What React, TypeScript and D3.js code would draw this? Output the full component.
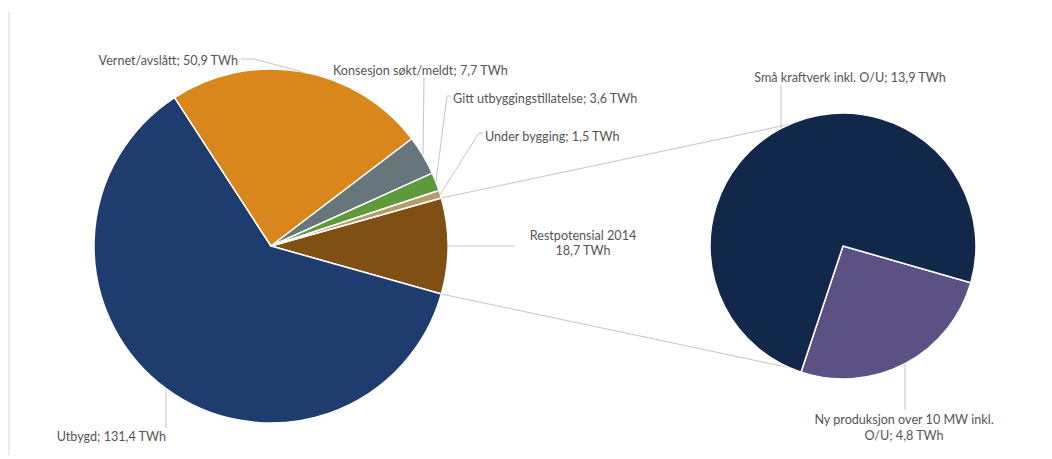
import React from "react";
import * as d3 from "d3";

const mainCategories = ["Restpotensial 2014", "Utbygd", "Vernet/avslått", "Konsesjon søkt/meldt", "Gitt utbyggingstillatelse", "Under bygging"];
const mainValues = [18.7, 131.4, 50.9, 7.7, 3.6, 1.5];
const mainColors = ["#7F4F14", "#1F3C6E", "#D9861C", "#66767A", "#5E9A3A", "#B59B6B"];

const subCategories = ["Ny produksjon over 10 MW inkl. O/U", "Små kraftverk inkl. O/U"];
const subValues = [4.8, 13.9];
const subColors = ["#5B5185", "#12284A"];

const fmt = (v: number) => v.toFixed(1).replace(".", ",");

const W = 1052, H = 459;
const C1 = { x: 271, y: 246, r: 177 };
const C2 = { x: 843, y: 246, r: 133 };
const SUB_START = (106 * Math.PI) / 180;
const TEXT = "#555555";
const LINE = "#c4c4c4";
const FONT = "Lato, 'Open Sans', sans-serif";
const FS = 12.6;

function pt(c: { x: number; y: number }, r: number, a: number): [number, number] {
  return [c.x + r * Math.sin(a), c.y - r * Math.cos(a)];
}

export default function App() {
  const total = d3.sum(mainValues);
  const s0 = Math.PI / 2 - (Math.PI * mainValues[0]) / total;
  const pie = d3.pie<number>().sort(null).value((d) => d).startAngle(s0).endAngle(s0 + 2 * Math.PI);
  const arcs = pie(mainValues);
  const arcGen = d3.arc<d3.PieArcDatum<number>>().innerRadius(0).outerRadius(C1.r);

  const subPie = d3.pie<number>().sort(null).value((d) => d).startAngle(SUB_START).endAngle(SUB_START + 2 * Math.PI);
  const subArcs = subPie(subValues);
  const subArcGen = d3.arc<d3.PieArcDatum<number>>().innerRadius(0).outerRadius(C2.r);

  const mid = (a: d3.PieArcDatum<number>) => (a.startAngle + a.endAngle) / 2;
  const edge = (i: number) => pt(C1, C1.r, mid(arcs[i]));
  const subEdge = (i: number) => pt(C2, C2.r, mid(subArcs[i]));

  const rest = arcs[0];
  const topP = pt(C1, C1.r, rest.startAngle);
  const botP = pt(C1, C1.r, rest.endAngle);

  const eRest = edge(0), eUt = edge(1), eVern = edge(2), eKon = edge(3), eGitt = edge(4), eUnder = edge(5);
  const eNy = subEdge(0), eSma = subEdge(1);

  const txt = { fill: TEXT, fontFamily: FONT, fontSize: FS } as const;

  return (
    <svg width={W} height={H} style={{ position: "absolute", left: 0, top: 0, background: "#fff" }}>
      <line x1={9} y1={12} x2={9} y2={455} stroke="#ececec" strokeWidth={2} />
      {/* connector lines */}
      <line x1={topP[0]} y1={topP[1]} x2={C2.x} y2={C2.y - C2.r} stroke={LINE} strokeWidth={1} />
      <line x1={botP[0]} y1={botP[1]} x2={C2.x} y2={C2.y + C2.r} stroke={LINE} strokeWidth={1} />
      <g transform={`translate(${C1.x},${C1.y})`}>
        {arcs.map((a, i) => (
          <path key={mainCategories[i]} d={arcGen(a) || ""} fill={mainColors[i]} stroke="#fff" strokeWidth={1.5} strokeLinejoin="round" />
        ))}
      </g>
      <g transform={`translate(${C2.x},${C2.y})`}>
        {subArcs.map((a, i) => (
          <path key={subCategories[i]} d={subArcGen(a) || ""} fill={subColors[i]} stroke="#fff" strokeWidth={1.5} strokeLinejoin="round" />
        ))}
      </g>
      {/* leader lines */}
      <g fill="none" stroke={LINE} strokeWidth={1}>
        <polyline points={`241,59 254,59 ${eVern[0]},${eVern[1]}`} />
        <polyline points={`${eKon[0] + 1},77 ${eKon[0]},${eKon[1]}`} />
        <polyline points={`451,96 447,96 ${eGitt[0]},${eGitt[1]}`} />
        <polyline points={`483,133 479,133 ${eUnder[0]},${eUnder[1]}`} />
        <polyline points={`${eRest[0]},${eRest[1]} 515,${eRest[1]}`} />
        <polyline points={`${eUt[0]},${eUt[1]} ${eUt[0]},428`} />
        <polyline points={`${eSma[0]},85 ${eSma[0]},${eSma[1]}`} />
        <polyline points={`${eNy[0]},${eNy[1]} ${eNy[0]},410`} />
      </g>
      {/* labels */}
      <text {...txt} x={238} y={65} textAnchor="end">{`${mainCategories[2]}; ${fmt(mainValues[2])} TWh`}</text>
      <text {...txt} x={333} y={75}>{`${mainCategories[3]}; ${fmt(mainValues[3])} TWh`}</text>
      <text {...txt} x={453} y={103}>{`${mainCategories[4]}; ${fmt(mainValues[4])} TWh`}</text>
      <text {...txt} x={485} y={141}>{`${mainCategories[5]}; ${fmt(mainValues[5])} TWh`}</text>
      <text {...txt} x={583} y={240} textAnchor="middle">{mainCategories[0]}</text>
      <text {...txt} x={583} y={255} textAnchor="middle">{`${fmt(mainValues[0])} TWh`}</text>
      <text {...txt} x={166} y={441} textAnchor="end">{`${mainCategories[1]}; ${fmt(mainValues[1])} TWh`}</text>
      <text {...txt} x={850} y={82} textAnchor="middle">{`${subCategories[1]}; ${fmt(subValues[1])} TWh`}</text>
      <text {...txt} x={904} y={424} textAnchor="middle">Ny produksjon over 10 MW inkl.</text>
      <text {...txt} x={904} y={440} textAnchor="middle">{`O/U; ${fmt(subValues[0])} TWh`}</text>
    </svg>
  );
}
